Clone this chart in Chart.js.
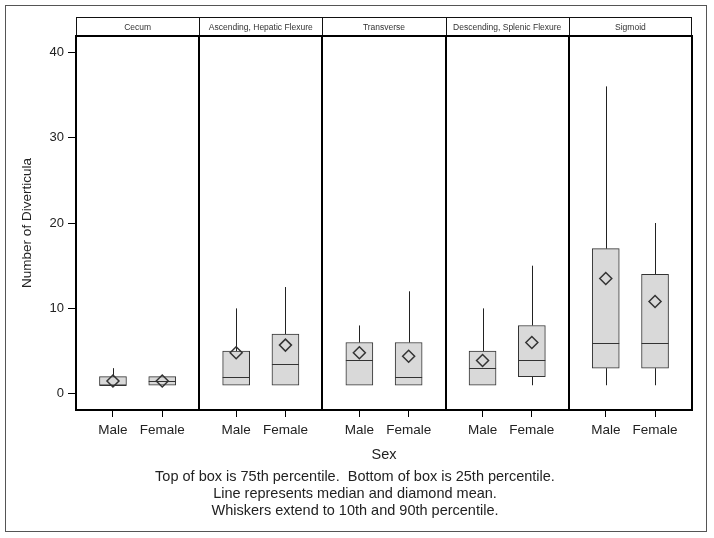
<!DOCTYPE html>
<html>
<head>
<meta charset="utf-8">
<script src="https://cdn.jsdelivr.net/npm/chart.js@4.4.1/dist/chart.umd.min.js"></script>
<style>
  html, body { margin: 0; padding: 0; background: #fff; }
</style>
</head>
<body>
<canvas id="boxChart" width="714" height="538"></canvas>
<script>
// data
const regions = ["Cecum", "Ascending, Hepatic Flexure", "Transverse", "Descending, Splenic Flexure", "Sigmoid"]
const sexes = ["Male", "Female"]
// one value per box: Male, Female for each region in turn
const p10 = [1, 1, 1, 1, 1, 1, 1, 1, 1, 1]
const q1 = [1, 1, 1, 1, 1, 1, 1, 2, 3, 3]
const median = [1, 1.5, 2, 3.5, 4, 2, 3, 4, 6, 6]
const q3 = [2, 2, 5, 7, 6, 6, 5, 8, 17, 14]
const p90 = [3, 2, 10, 12.5, 8, 12, 10, 15, 36, 20]
const mean = [1.5, 1.5, 4.8, 5.7, 4.8, 4.4, 3.9, 6, 13.5, 10.8]
const yTicks = [0, 10, 20, 30, 40]
const notes = [
  "Top of box is 75th percentile.  Bottom of box is 25th percentile.",
  "Line represents median and diamond mean.",
  "Whiskers extend to 10th and 90th percentile."
]

const FONT = "'Liberation Sans', Arial, sans-serif"
const boxWidth = 27

// each region takes 2 units on the x axis, boxes sit at 0.6 and 1.4
function xPos(i) {
  return Math.floor(i / 2) * 2 + (i % 2 ? 1.4 : 0.6)
}
const positions = q1.map((v, i) => xPos(i))

function crisp(v) {
  return Math.round(v) + 0.5
}

const panelPlugin = {
  id: "panels",
  beforeDraw(chart) {
    const ctx = chart.ctx
    ctx.save()
    ctx.fillStyle = "#fff"
    ctx.fillRect(0, 0, chart.width, chart.height)
    ctx.strokeStyle = "#555"
    ctx.lineWidth = 1
    ctx.strokeRect(5.5, 5.5, 701, 526)
    ctx.restore()
  },
  // whiskers go under the boxes
  beforeDatasetsDraw(chart) {
    const ctx = chart.ctx
    const xs = chart.scales.x
    const ys = chart.scales.y
    ctx.save()
    ctx.strokeStyle = "#222"
    ctx.lineWidth = 1
    positions.forEach((p, i) => {
      const x = crisp(xs.getPixelForValue(p))
      ctx.beginPath()
      ctx.moveTo(x, ys.getPixelForValue(q3[i]))
      ctx.lineTo(x, ys.getPixelForValue(p90[i]))
      ctx.moveTo(x, ys.getPixelForValue(q1[i]))
      ctx.lineTo(x, ys.getPixelForValue(p10[i]))
      ctx.stroke()
    })
    ctx.restore()
  },
  // medians on top of the boxes, under the diamonds
  afterDatasetDraw(chart, args) {
    if (args.index !== 0) return
    const ctx = chart.ctx
    const xs = chart.scales.x
    const ys = chart.scales.y
    ctx.save()
    ctx.strokeStyle = "#333"
    ctx.lineWidth = 1
    positions.forEach((p, i) => {
      const x = xs.getPixelForValue(p)
      const y = crisp(ys.getPixelForValue(median[i]))
      ctx.beginPath()
      ctx.moveTo(x - boxWidth / 2, y)
      ctx.lineTo(x + boxWidth / 2, y)
      ctx.stroke()
    })
    ctx.restore()
  },
  afterDraw(chart) {
    const ctx = chart.ctx
    const xs = chart.scales.x
    const a = chart.chartArea
    const headTop = 17
    ctx.save()

    // header strip
    ctx.strokeStyle = "#111"
    ctx.lineWidth = 1
    ctx.strokeRect(a.left + 0.5, headTop + 0.5, a.right - a.left - 1, a.top - headTop)
    ctx.font = "8.5px " + FONT
    ctx.fillStyle = "#333"
    ctx.textAlign = "center"
    ctx.textBaseline = "middle"
    regions.forEach((r, k) => {
      const x0 = xs.getPixelForValue(k * 2)
      const x1 = xs.getPixelForValue(k * 2 + 2)
      if (k > 0) {
        ctx.beginPath()
        ctx.moveTo(crisp(x0), headTop)
        ctx.lineTo(crisp(x0), a.top)
        ctx.stroke()
      }
      ctx.fillText(r, (x0 + x1) / 2, (headTop + a.top) / 2 + 1)
    })

    // plot frame and panel dividers
    ctx.lineWidth = 2
    ctx.strokeStyle = "#000"
    ctx.strokeRect(a.left, a.top, a.right - a.left, a.bottom - a.top)
    for (let k = 1; k < regions.length; k++) {
      const x = Math.round(xs.getPixelForValue(k * 2))
      ctx.beginPath()
      ctx.moveTo(x, a.top)
      ctx.lineTo(x, a.bottom)
      ctx.stroke()
    }

    // axis title and footnotes
    ctx.fillStyle = "#222"
    ctx.font = "14.5px " + FONT
    ctx.fillText("Sex", (a.left + a.right) / 2, 455)
    notes.forEach((t, j) => {
      ctx.fillText(t, 355, 477 + j * 17)
    })
    ctx.restore()
  },
}

const ctx = document.getElementById("boxChart").getContext("2d")
const boxChart = new Chart(ctx, {
  type: "bar",
  data: {
    datasets: [
      {
        label: "Box",
        data: positions.map((p, i) => ({ x: p, y: [q1[i], q3[i]] })),
        backgroundColor: "#d9d9d9",
        borderColor: "#333",
        borderWidth: 1,
        borderSkipped: false,
        barThickness: boxWidth,
        order: 1,
      },
      {
        type: "scatter",
        label: "Mean",
        data: positions.map((p, i) => ({ x: p, y: mean[i] })),
        pointStyle: "rectRot",
        pointRadius: 6,
        borderColor: "#333",
        borderWidth: 1.5,
        backgroundColor: "rgba(0,0,0,0)",
        order: 0,
      },
    ],
  },
  options: {
    responsive: false,
    animation: false,
    layout: {
      padding: { left: 19, top: 36, right: 22, bottom: 98 },
    },
    plugins: {
      legend: { display: false },
      tooltip: { enabled: false },
    },
    scales: {
      x: {
        type: "linear",
        min: 0,
        max: 10,
        offset: false,
        afterBuildTicks(scale) {
          scale.ticks = positions.map((v) => ({ value: v }))
        },
        afterFit(scale) {
          scale.height = 30
        },
        ticks: {
          autoSkip: false,
          maxRotation: 0,
          padding: 5,
          color: "#222",
          font: { family: FONT, size: 13.5 },
          callback: (value, index) => sexes[index % 2],
        },
        grid: {
          offset: false,
          drawOnChartArea: false,
          drawTicks: true,
          tickLength: 7,
          color: "#000",
        },
        border: { display: false },
      },
      y: {
        min: -1.9,
        max: 41.9,
        afterBuildTicks(scale) {
          scale.ticks = yTicks.map((v) => ({ value: v }))
        },
        afterFit(scale) {
          scale.width = 57
        },
        ticks: {
          padding: 4,
          color: "#222",
          font: { family: FONT, size: 13 },
        },
        grid: {
          drawOnChartArea: false,
          drawTicks: true,
          tickLength: 8,
          color: "#000",
        },
        border: { display: false },
        title: {
          display: true,
          text: "Number of Diverticula",
          color: "#222",
          font: { family: FONT, size: 13.5 },
          padding: { top: 0, bottom: 0 },
        },
      },
    },
  },
  plugins: [panelPlugin],
})
</script>
</body>
</html>
